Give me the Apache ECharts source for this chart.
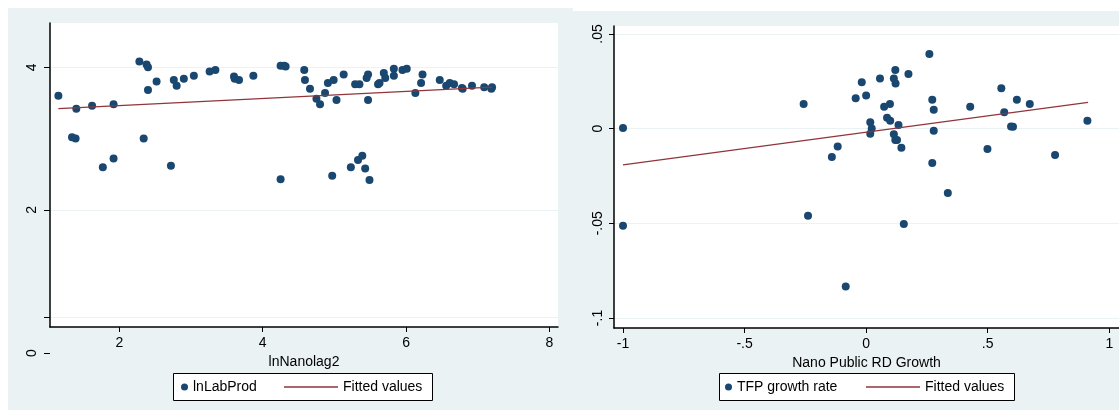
<!DOCTYPE html>
<html>
<head>
<meta charset="utf-8">
<script src="https://cdn.jsdelivr.net/npm/echarts@6/dist/echarts.min.js"></script>
<style>
  html, body { margin: 0; padding: 0; background: #ffffff; }
  #chart { width: 1119px; height: 410px; }
</style>
</head>
<body>
<div id="chart"></div>
<script>
// Left panel: log labour productivity against lagged log nano output
const labX = [1.15, 1.40, 1.34, 1.39, 1.62, 1.77, 1.92, 1.92, 2.28, 2.38, 2.40, 2.40, 2.34, 2.52, 2.72, 2.76, 2.80, 2.90, 3.04, 3.26, 3.34, 3.60, 3.61, 3.67, 3.87, 4.25, 4.30, 4.32, 4.25, 4.58, 4.59, 4.66, 4.75, 4.80, 4.87, 4.91, 4.99, 5.03, 4.97, 5.13, 5.23, 5.29, 5.35, 5.33, 5.39, 5.43, 5.49, 5.45, 5.47, 5.47, 5.61, 5.63, 5.69, 5.71, 5.83, 5.83, 5.95, 6.01, 6.13, 6.21, 6.23, 6.47, 6.56, 6.61, 6.67, 6.78, 6.79, 6.92, 7.09, 7.19, 7.20];
const labY = [3.60, 3.42, 3.02, 3.00, 3.46, 2.60, 3.48, 2.72, 4.08, 4.04, 4.00, 3.68, 3.00, 3.80, 2.62, 3.82, 3.74, 3.84, 3.88, 3.94, 3.96, 3.87, 3.84, 3.82, 3.88, 4.02, 4.02, 4.01, 2.43, 3.96, 3.82, 3.70, 3.56, 3.48, 3.64, 3.78, 3.82, 3.54, 2.48, 3.90, 2.60, 3.76, 3.76, 2.70, 2.76, 2.58, 2.42, 3.85, 3.90, 3.54, 3.76, 3.78, 3.92, 3.85, 3.98, 3.88, 3.96, 3.98, 3.64, 3.78, 3.90, 3.82, 3.74, 3.78, 3.76, 3.71, 3.70, 3.74, 3.72, 3.70, 3.72];
const labFitX = [1.15, 7.20];
const labFitY = [3.42, 3.72];

// Right panel: TFP growth against nano public R&D growth
const tfpX = [-1.00, -0.257, -0.141, -0.117, -0.043, -0.018, 0.000, 0.017, 0.023, 0.017, 0.057, 0.074, 0.086, 0.098, 0.099, 0.114, 0.120, 0.121, 0.114, 0.120, 0.127, 0.133, 0.145, 0.174, 0.260, 0.272, 0.278, 0.278, 0.272, 0.336, 0.428, 0.499, 0.556, 0.568, 0.596, 0.604, 0.620, 0.673, 0.777, 0.910, -1.00, -0.239, -0.084, 0.155];
const tfpY = [0.0003, 0.013, -0.015, -0.0094, 0.016, 0.0245, 0.0175, 0.0033, 0.000, -0.0027, 0.0265, 0.0116, 0.0058, 0.013, 0.0042, 0.0265, 0.031, 0.0238, -0.003, -0.006, -0.006, 0.0019, -0.0101, 0.0289, 0.0394, 0.0153, 0.010, -0.0011, -0.0182, -0.034, 0.0116, -0.0108, 0.0213, 0.0086, 0.0011, 0.0010, 0.0153, 0.013, -0.0139, 0.0042, -0.0513, -0.046, -0.0834, -0.0504];
const tfpFitX = [-1.00, 0.913];
const tfpFitY = [-0.0191, 0.0139];

// Axis ticks
const labXTicks = [2, 4, 6, 8];
const labYTicks = [0.5, 2, 4];
const labYLabels = [2, 4];
const labYZero = [0];
const tfpXTicks = [-1, -0.5, 0, 0.5, 1];
const tfpYTicks = [-0.1, -0.05, 0, 0.05];

const NAVY = '#1a476f';
const MAROON = '#90353b';
const PANEL = '#eaf2f3';
const FONT = 'Liberation Sans';

const zip = (xs, ys) => xs.map((x, i) => [x, ys[i]]);
const stataNum = v => String(+v.toFixed(4)).replace(/^(-?)0\./, '$1.');

const axisLineStyle = { show: true, onZero: false, lineStyle: { color: '#000', width: 1.5 } };
const labelStyle = { color: '#000', fontSize: 14, fontFamily: FONT };
const legendText = { color: '#000', fontSize: 14, fontFamily: FONT };

const chart = echarts.init(document.getElementById('chart'), null, { renderer: 'canvas' });

chart.setOption({
  animation: false,
  backgroundColor: '#ffffff',
  textStyle: { fontFamily: FONT },
  graphic: { elements: [
    { type: 'rect', z: -100, shape: { x: 8, y: 8, width: 565, height: 402 }, style: { fill: PANEL } },
    { type: 'rect', z: -100, shape: { x: 573, y: 11, width: 546, height: 399 }, style: { fill: PANEL } },
    { type: 'rect', z: 1, shape: { x: 173.5, y: 373.5, width: 259, height: 27 }, style: { fill: '#fff', stroke: '#000', lineWidth: 1 } },
    { type: 'rect', z: 1, shape: { x: 719.5, y: 373.5, width: 295, height: 27 }, style: { fill: '#fff', stroke: '#000', lineWidth: 1 } }
  ] },
  grid: [
    { left: 50, top: 23, width: 508, height: 304, show: true, backgroundColor: '#fff', borderWidth: 0 },
    { left: 50, top: 23, width: 508, height: 330, show: false },
    { left: 614, top: 26, width: 505, height: 302, show: true, backgroundColor: '#fff', borderWidth: 0 }
  ],
  xAxis: [
    {
      type: 'value', gridIndex: 0, min: 1.033, max: 8.12,
      name: 'lnNanolag2', nameLocation: 'middle', nameGap: 18,
      nameTextStyle: { color: '#000', fontSize: 14, fontFamily: FONT },
      axisLine: axisLineStyle,
      axisTick: { show: true, length: 5, customValues: labXTicks, lineStyle: { color: '#000', width: 1 } },
      axisLabel: Object.assign({ margin: 9, customValues: labXTicks }, labelStyle),
      splitLine: { show: false }
    },
    {
      type: 'value', gridIndex: 1, min: 1.033, max: 8.12, show: false
    },
    {
      type: 'value', gridIndex: 2, min: -1.037, max: 1.04,
      name: 'Nano Public RD Growth', nameLocation: 'middle', nameGap: 19,
      nameTextStyle: { color: '#000', fontSize: 14, fontFamily: FONT },
      axisLine: axisLineStyle,
      axisTick: { show: true, length: 5, customValues: tfpXTicks, lineStyle: { color: '#000', width: 1 } },
      axisLabel: Object.assign({ margin: 9, customValues: tfpXTicks, formatter: stataNum }, labelStyle),
      splitLine: { show: false }
    }
  ],
  yAxis: [
    {
      type: 'value', gridIndex: 0, min: 0.36, max: 4.62,
      axisLine: axisLineStyle,
      axisTick: { show: true, length: 6, customValues: labYTicks, lineStyle: { color: '#000', width: 1 } },
      axisLabel: Object.assign({ margin: 11, rotate: 90, customValues: labYLabels }, labelStyle),
      splitLine: { show: true, lineStyle: { color: PANEL, width: 1 } }
    },
    {
      type: 'value', gridIndex: 1, min: 0, max: 4.62,
      axisLine: { show: false },
      axisTick: { show: true, length: 6, customValues: labYZero, lineStyle: { color: '#000', width: 1 } },
      axisLabel: Object.assign({ margin: 11, rotate: 90, customValues: labYZero }, labelStyle),
      splitLine: { show: false }
    },
    {
      type: 'value', gridIndex: 2, min: -0.1053, max: 0.0542,
      axisLine: axisLineStyle,
      axisTick: { show: true, length: 5, customValues: tfpYTicks, lineStyle: { color: '#000', width: 1 } },
      axisLabel: Object.assign({ margin: 9, rotate: 90, customValues: tfpYTicks, formatter: stataNum }, labelStyle),
      splitLine: { show: true, lineStyle: { color: PANEL, width: 1 } }
    }
  ],
  legend: [
    { data: ['lnLabProd'], left: 181, top: 380, padding: 0, itemWidth: 7, itemHeight: 7, icon: 'circle',
      textStyle: legendText },
    { data: ['Fitted values'], left: 284, top: 380, padding: 0, itemWidth: 54, itemHeight: 1.3, icon: 'rect',
      itemStyle: { color: MAROON, borderWidth: 0 }, textStyle: legendText },
    { data: ['TFP growth rate'], left: 725, top: 380, padding: 0, itemWidth: 7, itemHeight: 7, icon: 'circle',
      textStyle: legendText },
    { data: ['Fitted values'], left: 866, top: 380, padding: 0, itemWidth: 54, itemHeight: 1.3, icon: 'rect',
      itemStyle: { color: MAROON, borderWidth: 0 }, textStyle: legendText }
  ],
  series: [
    {
      name: 'lnLabProd', type: 'scatter', xAxisIndex: 0, yAxisIndex: 0,
      data: zip(labX, labY), symbol: 'circle', symbolSize: 8,
      itemStyle: { color: NAVY, opacity: 1 }
    },
    {
      name: 'Fitted values', type: 'line', xAxisIndex: 0, yAxisIndex: 0,
      data: zip(labFitX, labFitY), symbol: 'none', showSymbol: false,
      lineStyle: { color: MAROON, width: 1.3 }, itemStyle: { color: MAROON }
    },
    {
      name: 'TFP growth rate', type: 'scatter', xAxisIndex: 2, yAxisIndex: 2,
      data: zip(tfpX, tfpY), symbol: 'circle', symbolSize: 8,
      itemStyle: { color: NAVY, opacity: 1 }
    },
    {
      name: 'Fitted values', type: 'line', xAxisIndex: 2, yAxisIndex: 2,
      data: zip(tfpFitX, tfpFitY), symbol: 'none', showSymbol: false,
      lineStyle: { color: MAROON, width: 1.3 }, itemStyle: { color: MAROON }
    }
  ]
});
</script>
</body>
</html>
